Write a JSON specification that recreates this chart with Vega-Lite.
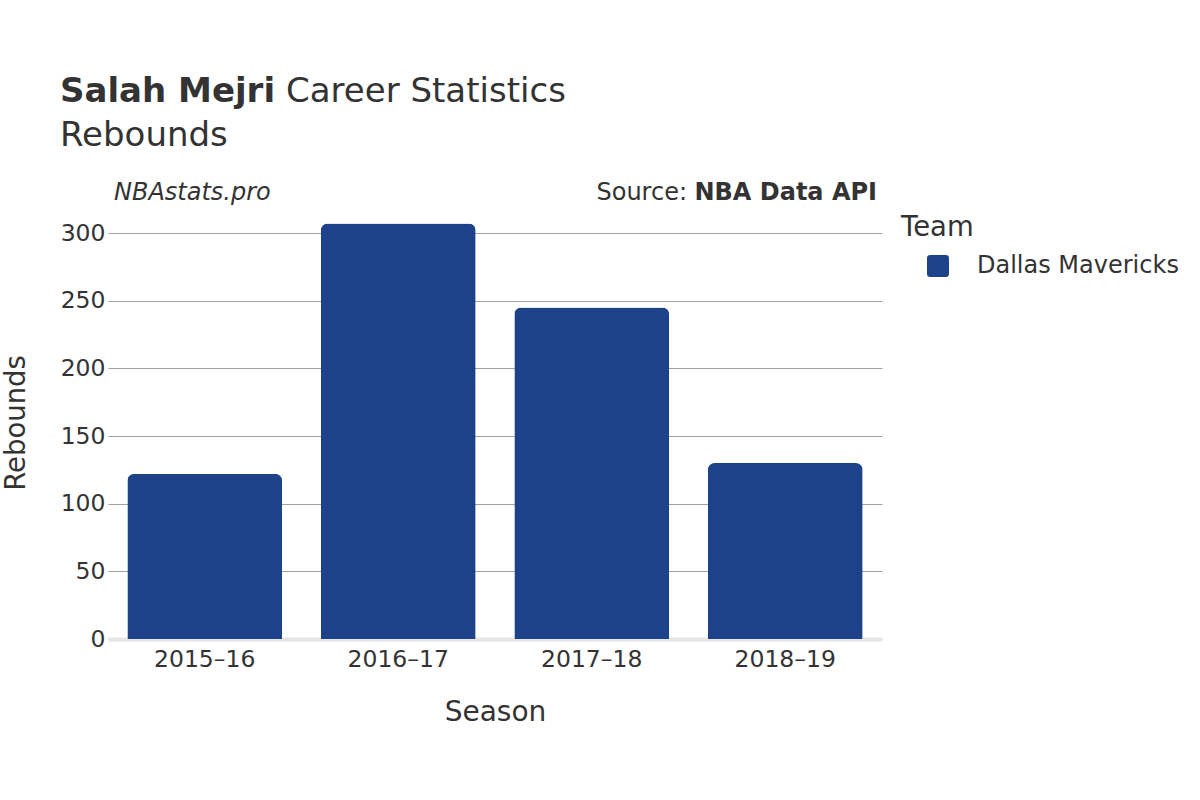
{
  "$schema": "https://vega.github.io/schema/vega-lite/v6.json",
  "width": 774,
  "height": 433,
  "autosize": {"type": "none"},
  "padding": {"left": 108, "top": 206, "right": 318, "bottom": 161},
  "background": "white",
  "config": {"font": "DejaVu Sans", "view": {"stroke": null}},
  "layer": [
    {
      "data": {
        "values": [
          {"Season": "2015–16", "Team": "Dallas Mavericks", "Rebounds": 122},
          {"Season": "2016–17", "Team": "Dallas Mavericks", "Rebounds": 307},
          {"Season": "2017–18", "Team": "Dallas Mavericks", "Rebounds": 245},
          {"Season": "2018–19", "Team": "Dallas Mavericks", "Rebounds": 130}
        ]
      },
      "mark": {"type": "bar", "cornerRadiusEnd": 7},
      "encoding": {
        "x": {
          "field": "Season",
          "type": "nominal",
          "sort": null,
          "scale": {"paddingInner": 0.2, "paddingOuter": 0.1},
          "axis": {
            "title": "Season",
            "labelAngle": 0,
            "labelFontSize": 23.5,
            "labelColor": "#333333",
            "labelPadding": 8,
            "ticks": false,
            "tickSize": 0,
            "domainColor": "#e6e6e6",
            "domainWidth": 4,
            "titleFontSize": 28,
            "titleColor": "#333333",
            "titleFontWeight": "normal",
            "titlePadding": 28,
            "grid": false
          }
        },
        "y": {
          "field": "Rebounds",
          "type": "quantitative",
          "scale": {"domain": [0, 320]},
          "axis": {
            "title": "Rebounds",
            "values": [0, 50, 100, 150, 200, 250, 300],
            "labelFontSize": 23.5,
            "labelColor": "#333333",
            "labelPadding": 3,
            "ticks": false,
            "domain": false,
            "grid": true,
            "gridColor": "#a0a0a0",
            "gridWidth": 1,
            "titleFontSize": 27.5,
            "titleColor": "#333333",
            "titleFontWeight": "normal",
            "titlePadding": 30
          }
        },
        "color": {
          "field": "Team",
          "type": "nominal",
          "scale": {"range": ["#1d428a"]},
          "legend": {
            "title": "Team",
            "orient": "none",
            "legendX": 793,
            "legendY": 7.5,
            "padding": 0,
            "titleFontSize": 27.5,
            "titleFontWeight": "normal",
            "titleColor": "#333333",
            "titlePadding": 13,
            "labelFontSize": 24,
            "labelColor": "#333333",
            "labelLimit": 400,
            "symbolType": "M-0.7,-1L0.7,-1Q1,-1,1,-0.7L1,0.7Q1,1,0.7,1L-0.7,1Q-1,1,-1,0.7L-1,-0.7Q-1,-1,-0.7,-1Z",
            "symbolSize": 484,
            "symbolOffset": 25,
            "symbolStrokeWidth": 0,
            "labelOffset": 27
          }
        }
      }
    },
    {
      "data": {"values": [{}]},
      "mark": {"type": "text", "text": "Salah Mejri", "x": -48, "y": -104, "align": "left", "baseline": "alphabetic", "fontSize": 34, "fontWeight": "bold", "fill": "#333333"},
      "encoding": {}
    },
    {
      "data": {"values": [{}]},
      "mark": {"type": "text", "text": "Career Statistics", "x": 178, "y": -104, "align": "left", "baseline": "alphabetic", "fontSize": 34, "fontWeight": "normal", "fill": "#333333"},
      "encoding": {}
    },
    {
      "data": {"values": [{}]},
      "mark": {"type": "text", "text": "Rebounds", "x": -48, "y": -60, "align": "left", "baseline": "alphabetic", "fontSize": 34, "fontWeight": "normal", "fill": "#333333"},
      "encoding": {}
    },
    {
      "data": {"values": [{}]},
      "mark": {"type": "text", "text": "NBAstats.pro", "x": 6, "y": -6, "align": "left", "baseline": "alphabetic", "fontSize": 24, "fontStyle": "italic", "fill": "#333333"},
      "encoding": {}
    },
    {
      "data": {"values": [{}]},
      "mark": {"type": "text", "text": "Source:", "x": 579, "y": -6, "align": "right", "baseline": "alphabetic", "fontSize": 24, "fill": "#333333"},
      "encoding": {}
    },
    {
      "data": {"values": [{}]},
      "mark": {"type": "text", "text": "NBA Data API", "x": 769, "y": -6, "align": "right", "baseline": "alphabetic", "fontSize": 24, "fontWeight": "bold", "fill": "#333333"},
      "encoding": {}
    }
  ]
}
